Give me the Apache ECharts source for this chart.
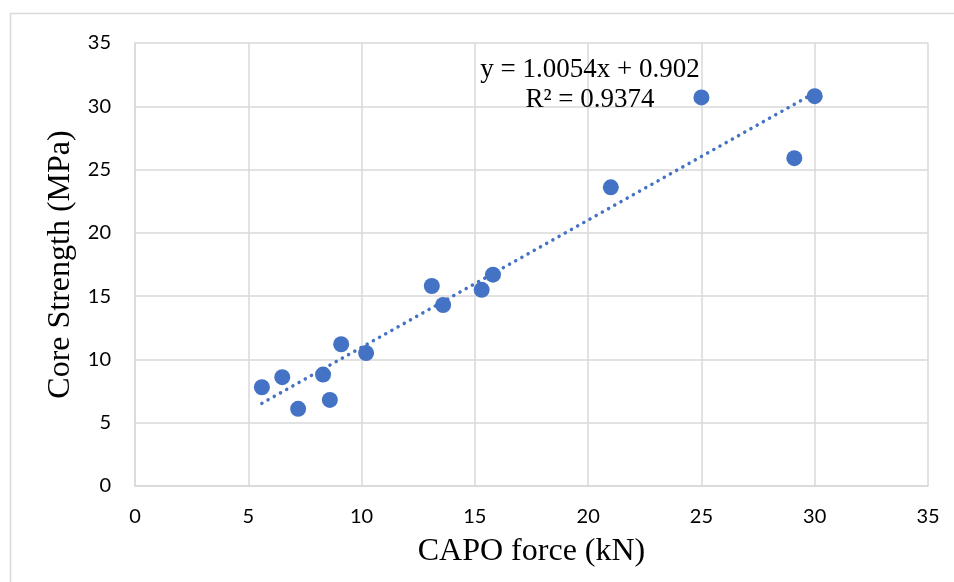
<!DOCTYPE html>
<html>
<head>
<meta charset="utf-8">
<script src="https://cdn.jsdelivr.net/npm/echarts@6/dist/echarts.min.js"></script>
<style>
  html, body { margin: 0; padding: 0; background: #fff; }
  #chart { width: 954px; height: 582px; }
</style>
</head>
<body>
<div id="chart"></div>
<script>
// CAPO force (kN) vs core strength (MPa)
const capoForce = [5.6, 6.5, 7.2, 8.3, 8.6, 9.1, 10.2, 13.1, 13.6, 15.3, 15.8, 21.0, 25.0, 29.1, 30.0]
const coreStrength = [7.8, 8.6, 6.1, 8.8, 6.8, 11.2, 10.5, 15.8, 14.3, 15.5, 16.7, 23.6, 30.7, 25.9, 30.8]

// linear trend from the chart label
const trendSlope = 1.0054
const trendIntercept = 0.902
const trendR2 = 0.9374
const trendRange = [5.6, 30.0]

const xTicks = { min: 0, max: 35, interval: 5 }
const yTicks = { min: 0, max: 35, interval: 5 }

const points = capoForce.map((x, i) => [x, coreStrength[i]])
const trendPoints = trendRange.map(x => [x, trendSlope * x + trendIntercept])

const blue = '#4472C4'
const gridColor = '#d9d9d9'
const labelFont = 'Lato, "Open Sans", sans-serif'
const titleFont = '"Liberation Serif", "Times New Roman", serif'

let chart = echarts.init(document.getElementById('chart'))
chart.setOption({
    animation: false,
    backgroundColor: '#fff',
    grid: {
        left: 135,
        right: 26,
        top: 43,
        bottom: 96
    },
    xAxis: {
        type: 'value',
        min: xTicks.min,
        max: xTicks.max,
        interval: xTicks.interval,
        name: 'CAPO force (kN)',
        nameLocation: 'middle',
        nameGap: 50,
        nameTextStyle: { fontFamily: titleFont, fontSize: 32, color: '#000' },
        axisLine: { show: true, lineStyle: { color: gridColor, width: 1.5 } },
        axisTick: { show: false },
        axisLabel: { margin: 21, fontFamily: labelFont, fontSize: 20, color: '#000' },
        splitLine: { show: true, lineStyle: { color: gridColor, width: 1.5 } }
    },
    yAxis: {
        type: 'value',
        min: yTicks.min,
        max: yTicks.max,
        interval: yTicks.interval,
        name: 'Core Strength (MPa)',
        nameLocation: 'middle',
        nameGap: 54,
        nameTextStyle: { fontFamily: titleFont, fontSize: 32, color: '#000' },
        axisLine: { show: true, lineStyle: { color: gridColor, width: 1.5 } },
        axisTick: { show: false },
        axisLabel: { margin: 24, fontFamily: labelFont, fontSize: 20, color: '#000' },
        splitLine: { show: true, lineStyle: { color: gridColor, width: 1.5 } }
    },
    graphic: [
        {
            type: 'rect',
            shape: { x: 10.5, y: 13.5, width: 1000, height: 1000 },
            style: { fill: 'none', stroke: '#d9d9d9', lineWidth: 1.5 },
            silent: true,
            z: -10
        },
        {
            type: 'text',
            x: 590,
            y: 55,
            style: {
                text: 'y = ' + trendSlope + 'x + ' + trendIntercept + '\nR² = ' + trendR2,
                align: 'center',
                verticalAlign: 'top',
                font: '27px "Liberation Serif", "Times New Roman", serif',
                lineHeight: 30,
                fill: '#000'
            },
            z: 100
        }
    ],
    series: [
        {
            type: 'line',
            data: trendPoints,
            symbol: 'none',
            lineStyle: { color: blue, width: 3.5, type: [0.1, 7], cap: 'round' },
            z: 2
        },
        {
            type: 'scatter',
            data: points,
            symbolSize: 16,
            itemStyle: { color: blue, opacity: 1 },
            z: 3
        }
    ]
})
</script>
</body>
</html>
